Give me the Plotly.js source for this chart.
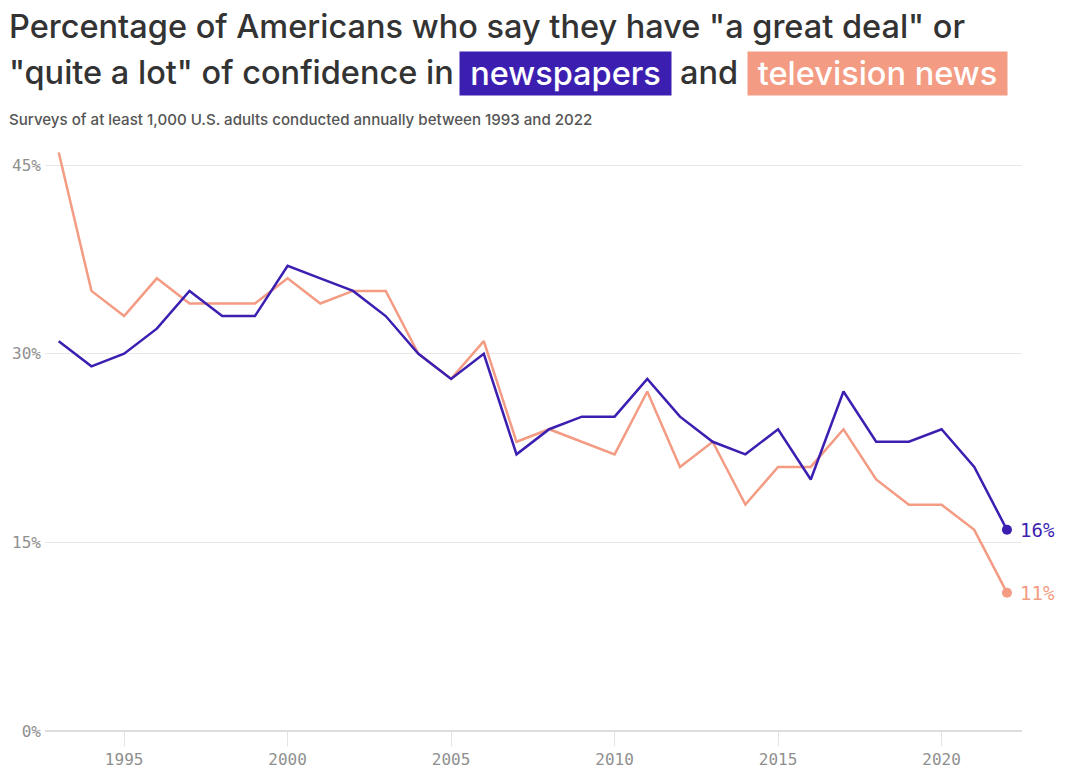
<!DOCTYPE html>
<html>
<head>
<meta charset="utf-8">
<script src="https://cdn.plot.ly/plotly-3.0.1.min.js"></script>
<style>html,body{margin:0;padding:0;background:#fff;}#chart{width:1065px;height:769px;}</style>
</head>
<body>
<div id="chart"></div>
<script>
const years = [1993,1994,1995,1996,1997,1998,1999,2000,2001,2002,2003,2004,2005,2006,2007,2008,2009,2010,2011,2012,2013,2014,2015,2016,2017,2018,2019,2020,2021,2022];
const newspapers = [31,29,30,32,35,33,33,37,36,35,33,30,28,30,22,24,25,25,28,25,23,22,24,20,27,23,23,24,21,16];
const televisionNews = [46,35,33,36,34,34,34,36,34,35,35,30,28,31,23,24,23,22,27,21,23,18,21,21,24,20,18,18,16,11];
const yTicks = [0,15,30,45];
const yTickText = ['0%','15%','30%','45%'];
const xTicks = [1995,2000,2005,2010,2015,2020];

const PURPLE = '#3c1fb1';
const SALMON = '#f39b83';

const W = 1065, H = 769;
const mL = 45, mR = 43, mT = 140, mB = 38;
const pw = W - mL - mR, ph = H - mT - mB;
const px = p => (p - mL) / pw;
const py = p => (H - mB - p) / ph;

const lastN = newspapers[newspapers.length-1];
const lastT = televisionNews[televisionNews.length-1];
const lastY = years[years.length-1];

const traces = [
  {x: years, y: televisionNews, type:'scatter', mode:'lines', line:{color:SALMON, width:2.5}},
  {x: years, y: newspapers, type:'scatter', mode:'lines', line:{color:PURPLE, width:2.5}},
  {x: [lastY], y: [lastT], type:'scatter', mode:'markers', marker:{color:SALMON, size:10}},
  {x: [lastY], y: [lastN], type:'scatter', mode:'markers', marker:{color:PURPLE, size:10}}
];

const titleFont = {family:'Inter, "Noto Sans", sans-serif', size:32.5, weight:500, color:'#333333'};
const whiteTitle = Object.assign({}, titleFont, {color:'#ffffff'});
const monoFont = '"DejaVu Sans Mono", monospace';

const annotations = [
  {xref:'paper', yref:'paper', x:px(7), y:py(26), xanchor:'left', yanchor:'middle', showarrow:false,
   text:'Percentage of Americans who say they have "a great deal" or', font:titleFont},
  {xref:'paper', yref:'paper', x:px(7), y:py(73), xanchor:'left', yanchor:'middle', showarrow:false,
   text:'"quite a lot" of confidence in', font:titleFont},
  {xref:'paper', yref:'paper', x:px(459), y:py(73.5), xanchor:'left', yanchor:'middle', showarrow:false,
   text:'newspapers', font:whiteTitle, bgcolor:PURPLE, borderpad:3, width:205, height:37, align:'center'},
  {xref:'paper', yref:'paper', x:px(678), y:py(73), xanchor:'left', yanchor:'middle', showarrow:false,
   text:'and', font:titleFont},
  {xref:'paper', yref:'paper', x:px(747), y:py(73.5), xanchor:'left', yanchor:'middle', showarrow:false,
   text:'television news', font:whiteTitle, bgcolor:SALMON, borderpad:3, width:253, height:37, align:'center'},
  {xref:'paper', yref:'paper', x:px(7), y:py(119), xanchor:'left', yanchor:'middle', showarrow:false,
   text:'Surveys of at least 1,000 U.S. adults conducted annually between 1993 and 2022',
   font:{family:'Inter, "Noto Sans", sans-serif', size:15.1, weight:500, color:'#555555'}},
  {xref:'x', yref:'y', x:lastY, y:lastN, xanchor:'left', yanchor:'middle', xshift:11, showarrow:false,
   text: lastN + '%', font:{family:monoFont, size:19, color:PURPLE}},
  {xref:'x', yref:'y', x:lastY, y:lastT, xanchor:'left', yanchor:'middle', xshift:11, showarrow:false,
   text: lastT + '%', font:{family:monoFont, size:19, color:SALMON}}
];

const layout = {
  width: W, height: H,
  margin: {l:mL, r:mR, t:mT, b:mB, pad:0},
  paper_bgcolor:'#ffffff', plot_bgcolor:'#ffffff',
  showlegend:false, hovermode:false,
  xaxis: {
    range:[1992.58, 2022.46], tickvals:xTicks, ticktext:xTicks.map(String),
    showgrid:false, zeroline:false, showline:false,
    ticks:'outside', ticklen:14, tickwidth:1, tickcolor:'#e3e3e3',
    tickfont:{family:monoFont, size:16, color:'#8f8f8f'},
    fixedrange:true
  },
  yaxis: {
    range:[0, 47], tickvals:yTicks, ticktext:yTickText,
    showgrid:true, gridcolor:'#e8e8e8', gridwidth:1,
    zeroline:true, zerolinecolor:'#dddddd', zerolinewidth:2,
    showline:false, ticks:'', ticklabelstandoff:3,
    tickfont:{family:monoFont, size:16, color:'#8f8f8f'},
    fixedrange:true
  },
  annotations: annotations
};

Plotly.newPlot('chart', traces, layout, {displayModeBar:false, staticPlot:true});
</script>
</body>
</html>
